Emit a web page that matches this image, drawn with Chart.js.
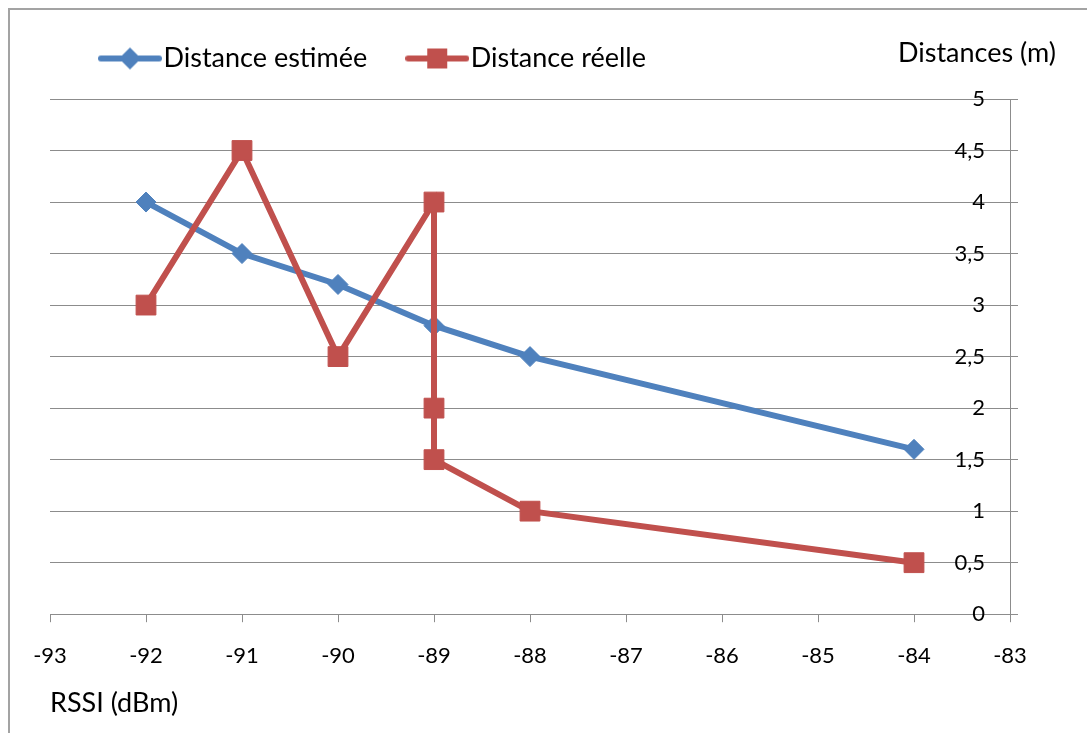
<!DOCTYPE html>
<html lang="fr">
<head>
    <meta charset="UTF-8">
    <meta name="viewport" content="width=device-width, initial-scale=1.0">
    <title>Distance estimée / Distance réelle</title>
    <style>
        html, body { margin: 0; padding: 0; background: #fff; overflow: hidden; }
        .frame { position: absolute; left: 8px; top: 8px; width: 1120px; height: 780px; border: 2px solid #a3a3a3; }
        .chart-container { position: absolute; left: 0; top: 0; width: 1087px; height: 733px; }
    </style>
</head>
<body>
    <div class="frame"></div>
    <div class="chart-container">
        <canvas id="chartCanvas"></canvas>
    </div>
    <script src="https://cdn.jsdelivr.net/npm/chart.js"></script>
    <script>
        // values
        const rssiEstimated = [-92, -91, -90, -89, -88, -84];
        const distanceEstimated = [4, 3.5, 3.2, 2.8, 2.5, 1.6];
        const rssiReal = [-92, -91, -90, -89, -89, -89, -88, -84];
        const distanceReal = [3, 4.5, 2.5, 4, 2, 1.5, 1, 0.5];
        const seriesNames = ['Distance estimée', 'Distance réelle'];
        const xTitle = 'RSSI (dBm)';
        const yTitle = 'Distances (m)';

        const BLUE = '#4f81bd';
        const RED = '#c0504d';
        const GRID = '#8c8c8c';
        const TITLE_SIZE = 27;
        const TICK_SIZE = 22;

        // small line + marker pictures for the legend
        function legendIcon(color, shape) {
            const c = document.createElement('canvas');
            c.width = 64;
            c.height = 24;
            const g = c.getContext('2d');
            g.strokeStyle = color;
            g.fillStyle = color;
            g.lineWidth = 6;
            g.lineCap = 'round';
            g.beginPath();
            g.moveTo(3, 12);
            g.lineTo(61, 12);
            g.stroke();
            g.beginPath();
            if (shape === 'diamond') {
                g.moveTo(32, 1); g.lineTo(43, 12); g.lineTo(32, 23); g.lineTo(21, 12);
            } else {
                g.rect(22, 2, 20, 20);
            }
            g.fill();
            return c;
        }

        const xy = (xs, ys) => xs.map((x, i) => ({ x: x, y: ys[i] }));

        // nudges the legend into place and writes the value axis title
        const layoutTweaks = {
            id: 'layoutTweaks',
            afterLayout(chart) {
                const lg = chart.legend;
                lg.left += 10; lg.right += 10;
                lg.top -= 17; lg.bottom -= 17;
            },
            afterDraw(chart) {
                const ctx = chart.ctx;
                ctx.save();
                ctx.font = TITLE_SIZE + 'px Lato';
                ctx.fillStyle = '#000';
                ctx.textAlign = 'right';
                ctx.textBaseline = 'middle';
                ctx.fillText(yTitle, chart.chartArea.right + 46, chart.chartArea.top - 46);
                ctx.restore();
            }
        };

        Chart.defaults.font.family = 'Lato';
        Chart.defaults.color = '#000';

        const ctx = document.getElementById('chartCanvas').getContext('2d');
        new Chart(ctx, {
            type: 'line',
            data: {
                datasets: [{
                    // red first so it is drawn on top of the blue line
                    label: seriesNames[1],
                    data: xy(rssiReal, distanceReal),
                    borderColor: RED,
                    backgroundColor: RED,
                    borderWidth: 6,
                    pointStyle: 'rect',
                    pointRadius: 14,
                    pointBorderWidth: 1,
                    tension: 0
                }, {
                    label: seriesNames[0],
                    data: xy(rssiEstimated, distanceEstimated),
                    borderColor: BLUE,
                    backgroundColor: BLUE,
                    borderWidth: 6,
                    pointStyle: 'rectRot',
                    pointRadius: 10,
                    pointBorderWidth: 1,
                    tension: 0
                }]
            },
            options: {
                responsive: true,
                maintainAspectRatio: false,
                animation: false,
                layout: { padding: { top: 12, left: 50, right: 69, bottom: 14 } },
                plugins: {
                    tooltip: { enabled: false },
                    legend: {
                        position: 'top',
                        align: 'start',
                        reverse: true,
                        labels: {
                            font: { size: TITLE_SIZE },
                            padding: 50,
                            usePointStyle: true,
                            pointStyleWidth: 40,
                            generateLabels(chart) {
                                return chart.data.datasets.map((ds, i) => ({
                                    text: ds.label,
                                    datasetIndex: i,
                                    pointStyle: legendIcon(ds.borderColor, i === 0 ? 'square' : 'diamond'),
                                    fillStyle: ds.borderColor,
                                    strokeStyle: ds.borderColor,
                                    lineWidth: 0,
                                    fontColor: '#000'
                                }));
                            }
                        }
                    }
                },
                scales: {
                    x: {
                        type: 'linear',
                        min: -93,
                        max: -83,
                        ticks: { stepSize: 1, padding: 21, font: { size: TICK_SIZE } },
                        grid: { drawOnChartArea: false, color: GRID, tickLength: 8 },
                        border: { color: GRID },
                        title: {
                            display: true,
                            text: xTitle,
                            align: 'start',
                            font: { size: TITLE_SIZE },
                            padding: { top: -4, bottom: 0 }
                        }
                    },
                    y: {
                        position: 'right',
                        min: 0,
                        max: 5,
                        afterFit: scale => { scale.width = 8; },
                        ticks: {
                            stepSize: 0.5,
                            mirror: true,
                            padding: -25,
                            font: { size: TICK_SIZE },
                            callback: value => String(value).replace('.', ',')
                        },
                        grid: { color: GRID, tickLength: 8 },
                        border: { color: GRID }
                    }
                }
            },
            plugins: [layoutTweaks]
        });
    </script>
</body>
</html>
